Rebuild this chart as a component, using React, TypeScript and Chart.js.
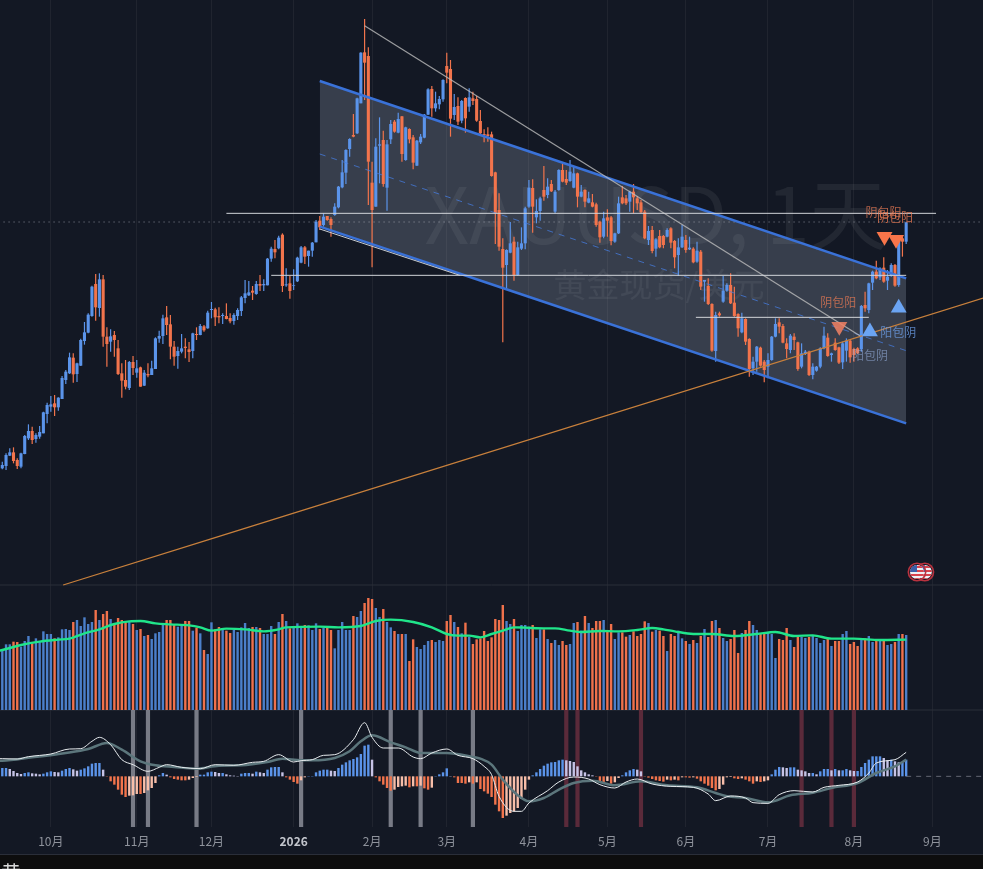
import { useEffect, useRef } from 'react';
import { Chart, registerables } from 'chart.js';

Chart.register(...registerables);

// price units are arbitrary, the picture has no price axis
const opens = [
  395,402,433,443,420,400,438,485,507,483,
  490,500,558,580,590,578,603,660,680,727,
  678,703,777,802,852,948,876,962,790,775,
  795,755,680,660,636,714,682,698,643,678,
  675,693,784,792,848,827,760,732,745,760,
  752,747,798,795,821,815,870,872,852,852,
  852,846,837,852,867,906,914,928,918,948,
  944,944,1024,1053,1055,1096,944,950,942,956,
  1012,1058,1032,1048,1073,1138,1125,1152,1143,1155,
  1178,1238,1282,1353,1395,1400,1490,1643,1632,1252,
  1180,1363,1380,1237,1382,1435,1402,1451,1320,1413,
  1388,1303,1373,1387,1456,1533,1475,1487,1502,1602,
  1593,1455,1482,1438,1506,1480,1505,1503,1437,1398,
  1397,1397,1283,1170,1053,1005,1042,1075,975,1054,
  1070,1180,1236,1148,1167,1230,1215,1248,1165,1230,
  1290,1263,1257,1237,1280,1210,1230,1192,1193,1187,
  1135,1090,1148,1148,1075,1100,1208,1205,1195,1225,
  1205,1193,1165,1080,1110,1054,1092,1092,1090,1115,
  1077,1035,1058,1080,1052,1054,1015,1045,955,942,
  888,747,860,895,928,945,892,858,803,843,
  783,695,715,757,715,700,720,790,833,822,
  770,750,790,773,700,738,745,675,688,700,
  755,787,735,772,758,713,748,778,753,755,
  752,885,870,952,985,968,997,958,972,1005,
  945,1085,1075,
];
const closes = [
  405,435,443,417,402,440,492,507,480,495,
  504,563,585,587,578,607,666,685,728,677,
  710,780,803,856,940,878,962,790,768,791,
  780,678,658,640,714,696,695,640,682,674,
  695,785,792,845,825,760,730,747,755,756,
  744,800,795,822,809,862,873,848,848,855,
  843,836,855,870,908,920,923,922,948,943,
  948,1024,1054,1043,1087,942,947,927,944,1027,
  1058,1030,1048,1072,1135,1118,1150,1140,1125,1180,
  1240,1283,1350,1383,1390,1505,1642,1612,1315,1170,
  1360,1367,1248,1367,1428,1405,1443,1338,1418,1382,
  1312,1378,1390,1456,1532,1475,1490,1503,1560,1582,
  1444,1479,1435,1497,1445,1508,1497,1438,1400,1394,
  1392,1272,1160,1060,997,1050,1070,975,1058,1070,
  1175,1237,1180,1167,1205,1210,1240,1226,1225,1290,
  1255,1252,1285,1280,1210,1225,1195,1205,1180,1125,
  1088,1145,1138,1077,1100,1190,1190,1190,1225,1208,
  1190,1163,1085,1107,1047,1082,1058,1065,1110,1072,
  1028,1058,1090,1050,1057,1013,1048,940,960,888,
  748,855,854,928,945,890,852,815,845,775,
  693,715,760,703,690,720,790,828,820,772,
  753,793,780,693,740,745,675,700,700,755,
  793,732,740,750,712,770,778,728,735,740,
  882,875,950,985,965,995,955,970,1005,943,
  1078,1075,1133,
];
const highs = [
  415,440,455,458,425,442,495,527,520,500,
  522,565,592,612,615,608,672,690,742,740,
  712,784,834,860,943,978,980,975,818,812,
  807,780,710,720,717,732,720,700,690,710,
  718,788,808,856,882,855,777,760,798,785,
  774,802,818,828,825,868,894,877,878,860,
  890,860,860,875,912,960,957,942,957,975,
  962,1026,1060,1080,1093,1100,995,972,992,1030,
  1062,1062,1048,1074,1140,1152,1160,1152,1148,1190,
  1242,1320,1352,1385,1458,1507,1643,1743,1658,1315,
  1385,1448,1408,1380,1440,1440,1462,1452,1420,1415,
  1395,1380,1398,1458,1535,1542,1525,1512,1562,1642,
  1620,1518,1508,1500,1508,1535,1525,1512,1470,1412,
  1418,1405,1285,1220,1085,1052,1134,1090,1075,1118,
  1180,1260,1262,1202,1210,1302,1265,1260,1230,1292,
  1310,1290,1320,1300,1282,1245,1232,1225,1218,1192,
  1138,1165,1172,1152,1102,1210,1242,1215,1228,1248,
  1212,1200,1170,1122,1122,1085,1110,1095,1115,1118,
  1080,1085,1125,1095,1090,1058,1075,1050,960,965,
  890,865,865,972,950,980,940,860,862,845,
  785,730,762,760,720,740,792,845,845,828,
  785,798,800,775,770,750,748,710,702,758,
  820,800,742,785,760,775,785,780,757,758,
  885,925,952,988,1018,998,1028,990,1010,1008,
  1082,1090,1135,
];
const lows = [
  392,390,432,410,393,395,437,480,468,472,
  484,500,530,565,552,568,603,648,678,652,
  654,702,766,800,850,838,850,760,700,745,
  730,675,607,632,630,675,667,640,642,668,
  675,693,772,768,795,722,703,694,740,725,
  714,725,780,794,805,814,845,822,830,828,
  842,830,826,840,852,890,912,900,916,927,
  927,944,1015,1025,1052,924,940,904,930,954,
  1010,1008,1000,1030,1073,1110,1120,1138,1090,1153,
  1175,1235,1248,1330,1388,1398,1490,1500,1185,998,
  1180,1250,1240,1168,1368,1402,1400,1315,1318,1370,
  1292,1302,1368,1385,1455,1450,1465,1472,1495,1550,
  1390,1440,1425,1430,1402,1465,1485,1435,1398,1373,
  1375,1270,1068,1048,773,932,1040,958,973,1050,
  1052,1177,1102,1130,1138,1198,1205,1224,1160,1228,
  1253,1245,1255,1235,1178,1208,1178,1190,1178,1120,
  1072,1085,1090,1064,1072,1098,1187,1185,1165,1160,
  1170,1160,1082,1065,1040,1030,1055,1055,1088,1055,
  995,972,1056,1042,1050,1010,1012,930,895,885,
  745,715,850,892,925,888,850,790,800,765,
  670,675,685,700,653,665,718,788,800,770,
  725,740,750,688,695,735,672,662,685,695,
  752,730,715,748,708,693,715,712,715,738,
  745,865,860,930,962,960,952,930,970,940,
  940,1030,1068,
];
const volumes = [
  177,197,197,205,204,190,207,222,200,215,
  205,236,228,228,215,218,242,243,240,264,
  270,252,278,258,264,300,270,288,297,273,
  255,276,270,265,265,258,240,243,222,225,
  213,230,234,255,270,270,255,250,252,267,
  267,238,247,230,180,168,263,242,249,240,
  238,231,240,234,248,261,246,249,249,246,
  228,228,252,228,264,288,267,245,250,260,
  248,255,254,240,260,243,246,249,240,185,
  240,264,240,240,282,279,297,321,336,333,
  306,279,303,264,248,237,228,228,228,147,
  212,189,183,195,207,210,204,210,207,267,
  285,264,249,230,262,220,198,212,215,237,
  207,218,273,270,315,267,258,273,237,255,
  255,250,255,216,242,242,213,201,210,195,
  207,195,198,261,264,238,282,261,246,267,
  267,270,240,258,213,233,233,220,225,236,
  222,228,266,261,235,240,238,222,177,228,
  222,238,215,207,198,210,201,222,243,219,
  267,270,246,216,207,213,240,171,231,240,
  267,255,240,228,228,231,228,156,213,210,
  246,210,189,219,219,216,219,222,216,201,
  210,213,192,207,207,228,237,198,204,192,
  210,215,222,204,210,207,207,195,198,204,
  228,228,225,
];
const histogram = [
  25,25,22,16,10,7,10,12,9,8,
  6,8,12,15,13,12,17,22,25,21,
  17,20,24,30,38,40,40,20,-1,-15,
  -25,-40,-55,-62,-58,-57,-53,-53,-50,-42,
  -35,-20,3,10,5,-3,-8,-10,-12,-12,
  -10,-5,-2,5,5,12,14,13,10,10,
  6,3,2,1,8,10,10,8,14,12,
  10,20,27,28,28,12,-3,-10,-17,-22,
  -12,-3,1,1,12,17,20,20,17,16,
  25,35,42,48,52,57,67,92,95,50,
  -3,-15,-25,-35,-43,-40,-32,-30,-28,-33,
  -30,-30,-28,-36,-40,-34,1,6,12,24,
  1,-3,-20,-20,-22,-18,-22,-18,-38,-45,
  -52,-62,-85,-105,-125,-118,-110,-105,-95,-68,
  -40,-10,3,12,22,32,38,42,43,48,
  50,48,46,43,30,18,12,6,3,-1,
  -15,-18,-14,-22,-18,-5,3,12,18,22,
  20,15,-1,-4,-8,-12,-14,-16,-10,-12,
  -10,-12,-3,-3,-4,-3,-7,-15,-22,-28,
  -35,-42,-38,-25,-3,-2,-6,-8,-6,-10,
  -15,-22,-15,-17,-15,-12,6,20,28,27,
  25,27,27,20,18,15,10,10,6,15,
  22,22,18,22,18,18,22,18,16,16,
  28,40,50,60,60,60,55,48,50,45,
  42,42,50,
];

// [bar index, value]
const volumeAverage = [
  [-1,178],[0,180],[5,195],[10,205],[15,211],[18,214],[22,230],[26,242],[30,258],[34,266],[37,267],
  [41,260],[45,257],[50,254],[53,248],[56,238],[60,244],[65,242],[70,236],[74,242],[76,248],
  [85,250],[90,248],[96,252],[100,267],[104,271],[110,264],[115,248],[119,228],[122,223],[125,223],
  [128,218],[131,228],[134,238],[137,248],[140,247],[145,245],[148,245],[152,238],[155,234],[160,237],
  [165,236],[170,240],[174,246],[177,242],[180,236],[185,228],[190,228],[196,222],[202,228],[207,234],
  [212,222],[217,224],[222,214],[228,214],[235,210],[242,211],
];
const difLine = [
  [-1,53],[0,53],[4,52],[7,59],[13,67],[18,82],[21,83],[24,105],[26,117],[29,95],[32,50],
  [35,35],[39,15],[42,27],[44,35],[48,27],[53,23],[57,35],[62,33],[67,42],[70,45],
  [74,65],[78,43],[80,47],[83,50],[86,63],[89,65],[94,110],[97,161],[99,117],[102,85],
  [106,85],[110,58],[112,53],[115,70],[119,82],[122,63],[126,53],[129,30],[131,5],[133,-60],
  [137,-105],[139,-105],[141,-80],[146,-43],[149,-17],[153,-2],[157,-8],[160,-25],[164,-35],[167,-17],
  [170,-8],[174,-23],[179,-30],[185,-33],[189,-53],[191,-73],[195,-59],[199,-65],[201,-79],[205,-81],
  [208,-55],[212,-43],[217,-47],[220,-33],[224,-27],[229,-17],[232,10],[234,40],[239,50],[242,72],
];
const deaLine = [
  [-1,47],[0,47],[8,57],[17,70],[23,82],[28,100],[32,80],[37,45],[41,33],[46,28],[52,23],
  [58,32],[64,33],[71,43],[75,53],[80,48],[83,48],[89,55],[93,75],[96,105],[99,123],
  [104,102],[108,87],[112,70],[119,70],[126,58],[128,53],[131,35],[134,-10],[138,-57],[141,-75],
  [145,-65],[149,-40],[153,-20],[158,-13],[164,-27],[171,-15],[178,-27],[186,-33],[191,-50],[194,-60],
  [199,-65],[205,-78],[211,-57],[217,-49],[222,-35],[229,-20],[234,10],[239,30],[242,50],
];

const sellSignals = [35, 39, 52, 80, 104, 112, 126];
const buySignals = [151, 154, 171, 214, 222, 228];

// drawings on the price pane
const channelTop = [[85,1557],[242,965]];
const channelMiddle = [[85,1338],[242,748]];
const channelBottom = [[85,1120],[242,530]];
const channelGuide = [[85,1113],[122.5,974]];
const fallingTrend = [[97,1723],[229.6,793]];
const risingTrend = [[16.3,45],[262.6,906]];
const levelHigh = [[60,1160],[250,1160]];
const levelMiddle = [[72,974],[242,974]];
const levelLow = [[185.7,848],[232,848]];
const lastPrice = [[-1,1134],[263,1134]];

const upMarkers = [[240,876],[232.3,805]];
const downMarkers = [[236.2,1090],[239.3,1081]];
const fadedDownMarkers = [[224.1,820]];

const patternLabels: [string, number, number, string][] = [
  ['阴包阳', 223.8, 892, 'rgba(240,125,85,0.72)'],
  ['阴包阳', 235.9, 1163, 'rgba(240,125,85,0.72)'],
  ['阴包阳', 239, 1149, 'rgba(240,125,85,0.8)'],
  ['阳包阴', 239.9, 802, 'rgba(110,160,235,0.75)'],
  ['阳包阴', 232.3, 733, 'rgba(150,175,220,0.6)'],
];

const monthTicks = [13, 36, 56, 78, 99, 119, 141, 162, 183, 205, 228, 249];
const monthLabels = ['10月', '11月', '12月', '2026', '2月', '3月', '4月', '5月', '6月', '7月', '8月', '9月'];

const pinIndexes = [247, 244.9];
const pinValue = 84;

const BG = '#131824';
const UP = '#5b94ea';
const DOWN = '#f2744c';
const CJK = '"Noto Sans CJK SC", "Noto Sans", sans-serif';

const toXY = (pts: number[][]) => pts.map(([x, y]) => ({ x, y }));

const lineSet = (data: number[][], color: string, width: number, yAxisID: string, order: number, dash: number[] = []) => ({
  type: 'line' as const,
  data: toXY(data),
  borderColor: color,
  borderWidth: width,
  borderDash: dash,
  pointRadius: 0,
  cubicInterpolationMode: 'monotone' as const,
  fill: false,
  yAxisID,
  order,
});

const markerSet = (data: number[][], color: string, rotation: number, order: number) => ({
  type: 'line' as const,
  data: toXY(data),
  showLine: false,
  pointStyle: 'triangle',
  pointRadius: 9.2,
  pointRotation: rotation,
  pointBackgroundColor: color,
  pointBorderWidth: 0,
  yAxisID: 'price',
  order,
});

const barSet = (data: any[], color: any, thickness: number, yAxisID: string, order: number) => ({
  type: 'bar' as const,
  data,
  backgroundColor: color,
  barThickness: thickness,
  borderWidth: 0,
  inflateAmount: 0,
  grouped: false,
  yAxisID,
  order,
});

const overlayPlugin = {
  id: 'overlay',
  beforeDatasetsDraw(chart: any) {
    const { ctx } = chart;
    ctx.save();
    ctx.textAlign = 'center';
    ctx.fillStyle = 'rgba(255,255,255,0.065)';
    ctx.font = `78px ${CJK}`;
    ctx.fillText('XAUUSD, 1天', 656, 244);
    ctx.font = `33px ${CJK}`;
    ctx.fillText('黄金现货/美元', 659, 297);
    ctx.restore();
  },
  afterDatasetsDraw(chart: any) {
    const { ctx, scales } = chart;
    ctx.save();
    ctx.textAlign = 'center';
    ctx.textBaseline = 'middle';
    ctx.font = `12px ${CJK}`;
    patternLabels.forEach(([text, i, v, color]) => {
      ctx.fillStyle = color;
      ctx.fillText(text, scales.x.getPixelForValue(i), scales.price.getPixelForValue(v));
    });

    // event pins, two round US flags
    pinIndexes.forEach((i) => {
      const x = scales.x.getPixelForValue(i);
      const y = scales.price.getPixelForValue(pinValue);
      ctx.save();
      ctx.beginPath();
      ctx.arc(x, y, 7, 0, Math.PI * 2);
      ctx.fillStyle = '#eef0f5';
      ctx.fill();
      ctx.clip();
      ctx.fillStyle = '#d8434e';
      for (let s = -6; s < 8; s += 4) ctx.fillRect(x - 8, y + s, 16, 2);
      ctx.fillStyle = '#3b5fa8';
      ctx.fillRect(x - 8, y - 8, 8, 8);
      ctx.restore();
      ctx.beginPath();
      ctx.arc(x, y, 8.7, 0, Math.PI * 2);
      ctx.strokeStyle = '#b8323f';
      ctx.lineWidth = 1.6;
      ctx.stroke();
    });
    ctx.restore();
  },
  afterDraw(chart: any) {
    const { ctx } = chart;
    ctx.save();
    ctx.fillStyle = '#0d0d0e';
    ctx.fillRect(0, 855, 983, 14);
    ctx.fillStyle = '#2a2e39';
    ctx.fillRect(0, 854, 983, 1);
    ctx.fillStyle = '#d8d8d8';
    ctx.font = `20px ${CJK}`;
    ctx.textAlign = 'left';
    ctx.textBaseline = 'top';
    ctx.fillText('黄', 1, 863);
    ctx.restore();
  },
};

export default function App() {
  const canvasRef = useRef<HTMLCanvasElement>(null);

  useEffect(() => {
    if (!canvasRef.current) return;
    const isUp = opens.map((o, i) => closes[i] >= o);
    const candleColors = isUp.map((u) => (u ? UP : DOWN));
    const volumeColors = isUp.map((u) => (u ? '#4b7fca' : '#f0714b'));
    const histColors = histogram.map((h, i) => {
      const prev = i ? histogram[i - 1] : h;
      if (h >= 0) return h >= prev ? UP : '#c6c3e6';
      return h <= prev ? DOWN : '#f7bea9';
    });

    const chart = new Chart(canvasRef.current, {
      type: 'bar',
      data: {
        datasets: [
          // channel fill goes first, under the candles
          {
            type: 'line',
            data: toXY(channelTop),
            borderWidth: 0,
            pointRadius: 0,
            fill: '+1',
            backgroundColor: 'rgba(170,185,205,0.24)',
            yAxisID: 'price',
            order: 100,
          },
          { type: 'line', data: toXY(channelBottom), borderWidth: 0, pointRadius: 0, fill: false, yAxisID: 'price', order: 99 },
          lineSet([[-1, 45], [263, 45]], '#2a2e39', 1, 'price', 98),
          lineSet([[-1, 0], [263, 0]], '#2a2e39', 1, 'volume', 98),
          lineSet(lastPrice, 'rgba(210,215,225,0.6)', 1, 'price', 97, [1, 4]),
          barSet(sellSignals.map((i) => ({ x: i, y: [-152, 199] })), '#787b86', 4.2, 'macd', 90),
          barSet(buySignals.map((i) => ({ x: i, y: [-152, 199] })), '#5a2a3a', 4.2, 'macd', 90),
          barSet(volumes.map((v, i) => ({ x: i, y: v })), volumeColors, 2.4, 'volume', 80),
          lineSet(volumeAverage, '#20e58a', 2.4, 'volume', 79),
          barSet(histogram.map((h, i) => ({ x: i, y: h })), histColors, 2.4, 'macd', 70),
          lineSet(deaLine, '#5c767c', 2.5, 'macd', 69),
          lineSet(difLine, '#e8ecef', 1, 'macd', 68),
          lineSet([[242, 0], [263, 0]], 'rgba(120,123,134,0.8)', 1, 'macd', 67, [5, 5]),
          barSet(highs.map((h, i) => ({ x: i, y: [lows[i], h] })), candleColors, 1.2, 'price', 60),
          barSet(opens.map((o, i) => ({ x: i, y: [o, closes[i]] })), candleColors, 3.1, 'price', 59),
          lineSet(channelMiddle, 'rgba(70,125,225,0.75)', 1, 'price', 50, [6, 6]),
          lineSet(channelTop, '#3a72d8', 2.5, 'price', 49),
          lineSet(channelBottom, '#3a72d8', 2.5, 'price', 49),
          lineSet(channelGuide, '#c8ccd2', 1, 'price', 48),
          lineSet(fallingTrend, 'rgba(190,190,190,0.8)', 1.2, 'price', 47),
          lineSet(risingTrend, '#c8803c', 1.3, 'price', 47),
          lineSet(levelHigh, '#d2d5da', 1, 'price', 46),
          lineSet(levelMiddle, '#d2d5da', 1, 'price', 46),
          lineSet(levelLow, '#d2d5da', 1, 'price', 46),
          markerSet(fadedDownMarkers, 'rgba(242,130,100,0.85)', 180, 40),
          markerSet(downMarkers, '#f8754a', 180, 40),
          markerSet(upMarkers, '#6ba4f2', 0, 40),
        ] as any,
      },
      options: {
        responsive: false,
        animation: false,
        events: [],
        layout: { padding: 0, autoPadding: false },
        plugins: { legend: { display: false }, tooltip: { enabled: false } },
        scales: {
          x: {
            type: 'linear',
            min: -0.616,
            max: 262.57,
            offset: false,
            border: { display: false },
            grid: { color: '#20242f', offset: false, drawTicks: false },
            afterBuildTicks: (scale: any) => {
              scale.ticks = monthTicks.map((value) => ({ value }));
            },
            afterFit: (scale: any) => {
              scale.height = 42;
              scale.paddingLeft = 0;
              scale.paddingRight = 0;
            },
            ticks: {
              autoSkip: false,
              maxRotation: 0,
              padding: 7,
              color: (ctx: any) => (ctx.index === 3 ? '#c2c5cc' : '#8f939c'),
              font: (ctx: any) => ({ family: CJK, size: 12, weight: ctx.index === 3 ? 'bold' : 'normal' }),
              callback: (_v: any, index: number) => monthLabels[index],
            },
          },
          // hidden scales still reserve room for tick labels unless ticks are off
          price: { display: false, min: -681, max: 1800, ticks: { display: false } },
          volume: { display: false, min: -351, max: 2130, ticks: { display: false } },
          macd: { display: false, min: -152, max: 2329, ticks: { display: false } },
        },
      } as any,
      plugins: [overlayPlugin],
    });

    return () => {
      chart.destroy();
    };
  }, []);

  return (
    <div style={{ position: 'fixed', left: 0, top: 0, width: 983, height: 869, background: BG, overflow: 'hidden' }}>
      <canvas ref={canvasRef} width={983} height={869} style={{ display: 'block' }} />
    </div>
  );
}
